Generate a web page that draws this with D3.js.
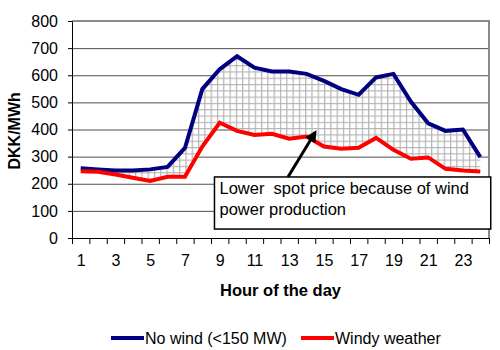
<!DOCTYPE html>
<html>
<head>
<meta charset="utf-8">
<script src="https://cdn.jsdelivr.net/npm/d3@7"></script>
<style>
  body { margin: 0; background: #fff; }
  text { font-family: "Liberation Sans", Arial, sans-serif; }
</style>
</head>
<body>
<div id="chart"></div>
<script>
const hours = d3.range(1, 25);
const noWind = [257, 253, 249, 249, 253, 262, 332, 549, 622, 670, 628, 614, 614, 605, 579, 549, 528, 592, 605, 503, 423, 395, 400, 298];
const windy = [246, 244, 234, 222, 210, 226, 226, 337, 425, 395, 380, 384, 366, 374, 337, 329, 333, 369, 325, 292, 297, 255, 249, 245];
const yTicks = [0, 100, 200, 300, 400, 500, 600, 700, 800];
const xLabels = [1, 3, 5, 7, 9, 11, 13, 15, 17, 19, 21, 23];
const seriesNames = ["No wind (<150 MW)", "Windy weather"];
const noteLines = ["Lower  spot price because of wind", "power production"];

const margin = { top: 21, right: 11, bottom: 112, left: 72 },
  W = 500, H = 350,
  width = W - margin.left - margin.right,
  height = H - margin.top - margin.bottom;

const svg = d3.select("#chart")
  .append("svg")
  .attr("width", W)
  .attr("height", H);

const defs = svg.append("defs");
const pat = defs.append("pattern")
  .attr("id", "grid")
  .attr("patternUnits", "userSpaceOnUse")
  .attr("width", 6.3)
  .attr("height", 6.3);
pat.append("rect").attr("width", 6.3).attr("height", 6.3).attr("fill", "#fff");
pat.append("path")
  .attr("d", "M0,0.6H6.3M0.6,0V6.3")
  .attr("stroke", "#b4b4b4")
  .attr("stroke-width", 1.2);

const g = svg.append("g")
  .attr("transform", `translate(${margin.left},${margin.top})`);

const x = d3.scaleLinear().domain([0.5, 24.5]).range([0, width]);
const y = d3.scaleLinear().domain([0, 800]).range([height, 0]);

// gridlines
g.append("g")
  .call(d3.axisLeft(y).tickValues(yTicks.slice(1, -1)).tickSize(-width).tickFormat(""))
  .call(s => s.select(".domain").remove())
  .selectAll("line")
  .attr("stroke", "#222")
  .attr("stroke-width", 0.8);

// plot border (top and right)
g.append("path")
  .attr("d", `M0,${y(800)}H${width}V${height}`)
  .attr("fill", "none")
  .attr("stroke", "#8a8a8a")
  .attr("stroke-width", 2);

// hatched difference
const area = d3.area()
  .x((d, i) => x(hours[i]))
  .y0((d, i) => y(windy[i]))
  .y1(d => y(d));
g.append("path")
  .datum(noWind)
  .attr("d", area)
  .attr("fill", "url(#grid)");

const line = d3.line().x((d, i) => x(hours[i])).y(d => y(d));
const colors = ["#000080", "#ff0000"];
[noWind, windy].forEach((s, k) => {
  g.append("path")
    .datum(s)
    .attr("d", line)
    .attr("fill", "none")
    .attr("stroke", colors[k])
    .attr("stroke-width", 4);
});

// axes
const yAxis = g.append("g")
  .call(d3.axisLeft(y).tickValues(yTicks).tickSize(4).tickSizeOuter(0).tickPadding(10));
yAxis.selectAll("text").style("font-size", "16px").attr("fill", "#000")
  .style("font-family", "Liberation Sans, Arial, sans-serif");
yAxis.selectAll("line, path").attr("stroke", "#000");

const xTicks = g.append("g")
  .attr("transform", `translate(0,${height})`)
  .call(d3.axisBottom(x).tickValues(d3.range(0.5, 25, 1)).tickSize(6).tickSizeOuter(0).tickFormat(""));
xTicks.selectAll("line, path").attr("stroke", "#000");

const xLab = g.append("g")
  .attr("transform", `translate(0,${height})`)
  .call(d3.axisBottom(x).tickValues(xLabels).tickSize(0).tickPadding(17));
xLab.select(".domain").remove();
xLab.selectAll("text").style("font-size", "16px").attr("fill", "#000")
  .style("font-family", "Liberation Sans, Arial, sans-serif");

// axis titles
g.append("text")
  .attr("x", width / 2)
  .attr("y", height + 58)
  .attr("text-anchor", "middle")
  .style("font-size", "16.5px")
  .style("font-weight", "bold")
  .text("Hour of the day");

g.append("text")
  .attr("transform", `translate(${-52},${y(395)})rotate(-90)`)
  .attr("text-anchor", "middle")
  .style("font-size", "16px")
  .style("font-weight", "bold")
  .text("DKK/MWh");

// annotation
const box = { x0: 8.7, x1: 24.6, yTop: 225, yBot: 33 };
g.append("rect")
  .attr("x", x(box.x0))
  .attr("y", y(box.yTop))
  .attr("width", x(box.x1) - x(box.x0))
  .attr("height", y(box.yBot) - y(box.yTop))
  .attr("fill", "#fff")
  .attr("stroke", "#000")
  .attr("stroke-width", 1.5);

noteLines.forEach((t, i) => {
  g.append("text")
    .attr("x", x(box.x0) + 5)
    .attr("y", y(box.yTop) + 17.5 + i * 21)
    .style("font-size", "16.5px")
    .style("white-space", "pre")
    .attr("fill", "#000")
    .text(t);
});

defs.append("marker")
  .attr("id", "head")
  .attr("viewBox", "0 0 10 10")
  .attr("refX", 8)
  .attr("refY", 5)
  .attr("markerWidth", 4)
  .attr("markerHeight", 4)
  .attr("orient", "auto")
  .append("path")
  .attr("d", "M0,0L10,5L0,10z")
  .attr("fill", "#000");

g.append("line")
  .attr("x1", x(12.93)).attr("y1", y(225))
  .attr("x2", x(14.5)).attr("y2", y(390))
  .attr("stroke", "#000")
  .attr("stroke-width", 3)
  .attr("marker-end", "url(#head)");

// legend
const legend = svg.append("g").attr("transform", "translate(111,338)");
const offs = [0, 190];
seriesNames.forEach((n, i) => {
  const lg = legend.append("g").attr("transform", `translate(${offs[i]},0)`);
  lg.append("line")
    .attr("x1", 0).attr("x2", 33)
    .attr("stroke", colors[i])
    .attr("stroke-width", 4);
  lg.append("text")
    .attr("x", 34)
    .attr("y", 6)
    .style("font-size", "16px")
    .text(n);
});
</script>
</body>
</html>
